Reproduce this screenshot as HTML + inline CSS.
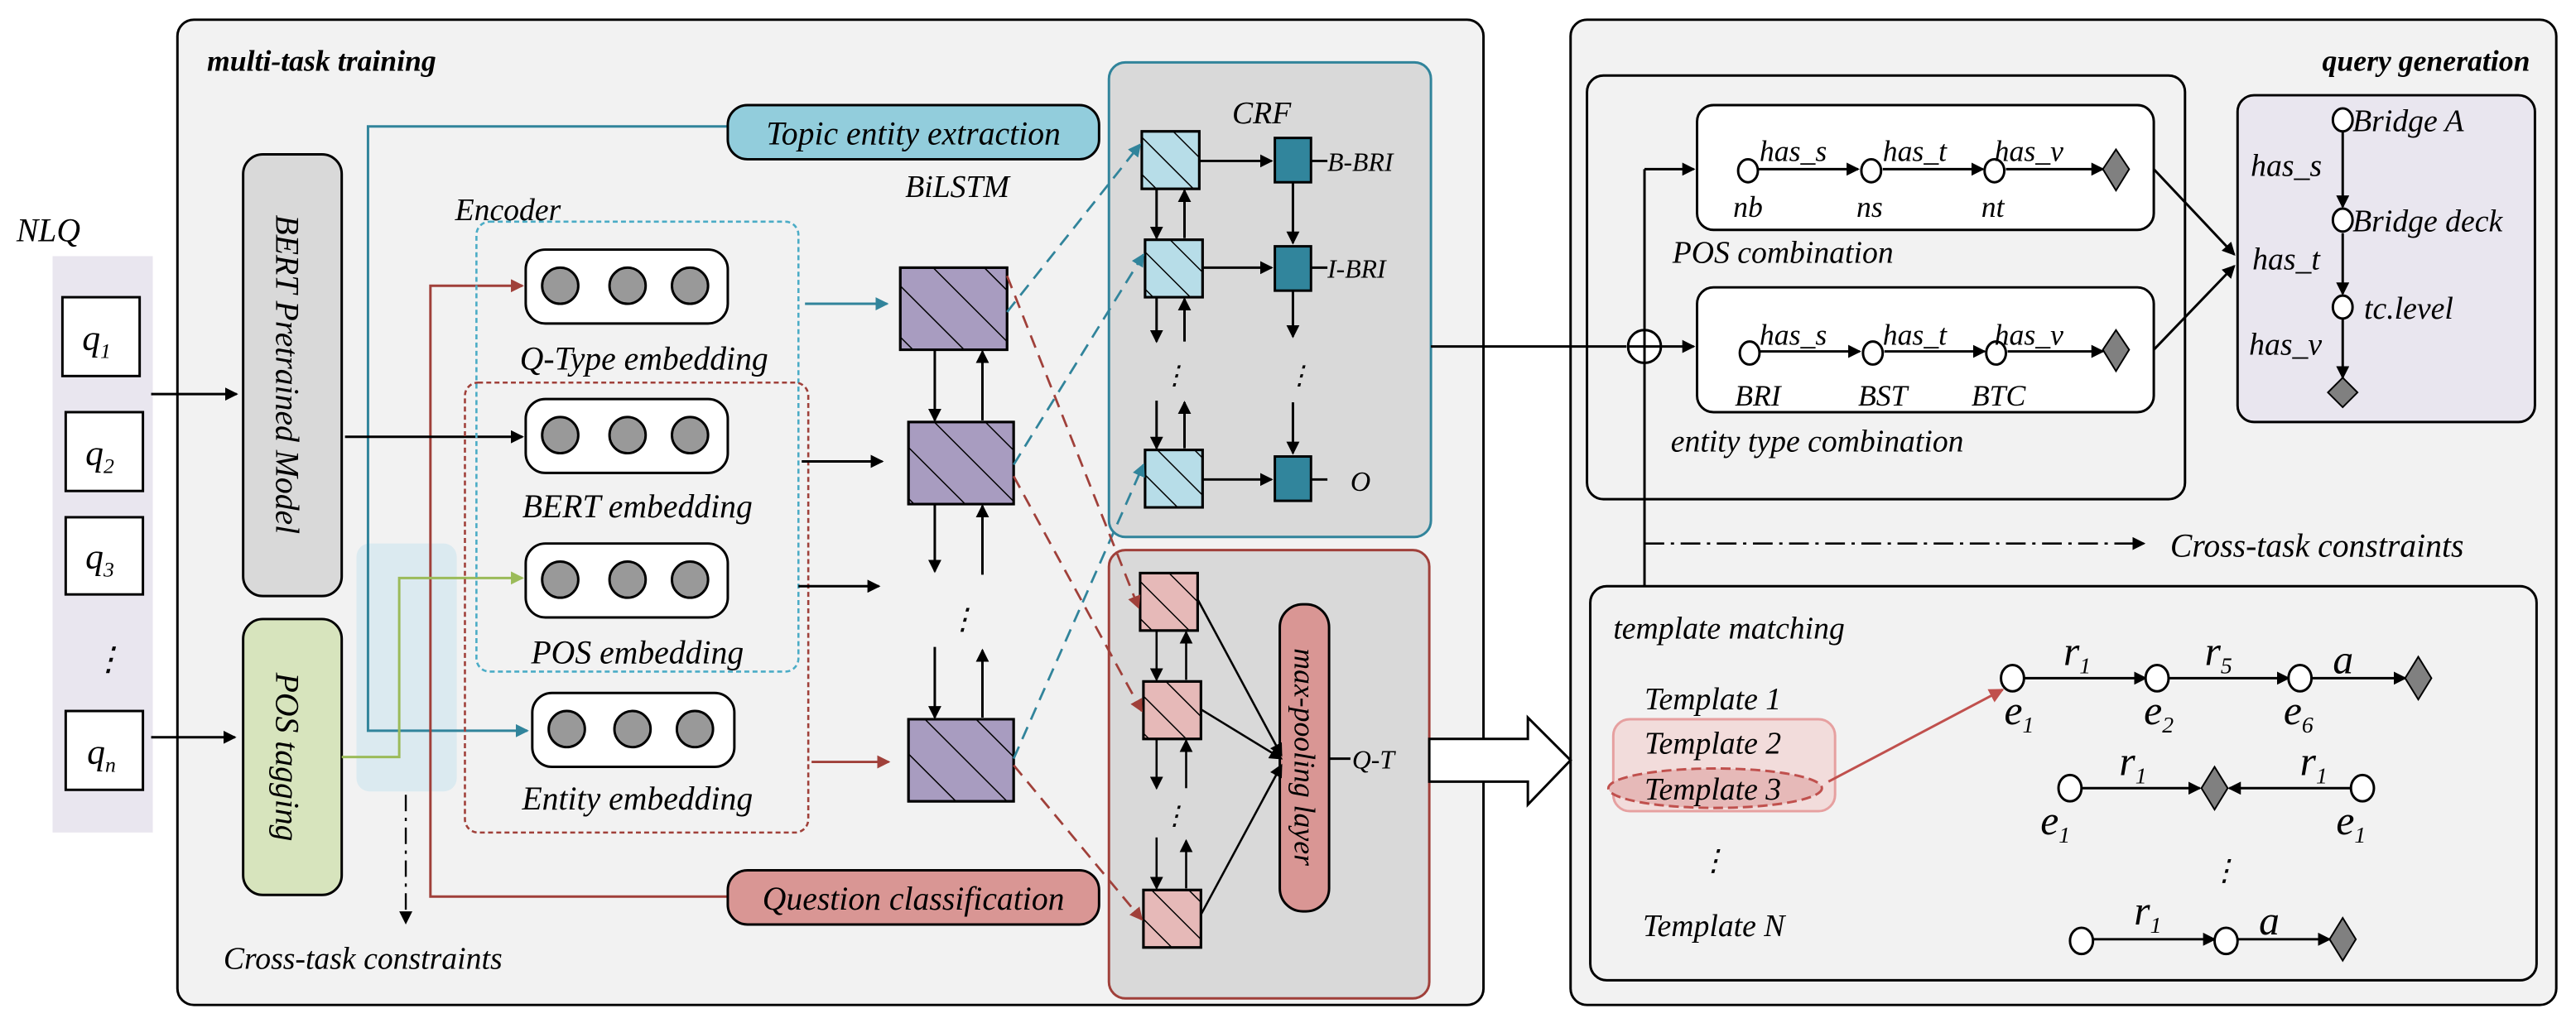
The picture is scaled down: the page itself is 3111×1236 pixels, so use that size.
<!DOCTYPE html>
<html><head><meta charset="utf-8"><style>html,body{margin:0;padding:0;background:#fff}svg{display:block;font-family:"Liberation Serif","Times New Roman","DejaVu Serif",serif;font-style:italic}svg text{font-family:"Liberation Serif","Times New Roman","DejaVu Serif",serif;font-style:italic}</style></head><body>
<svg width="3111" height="1236" viewBox="0 0 1568 623" preserveAspectRatio="none" xmlns="http://www.w3.org/2000/svg" font-family="Liberation Serif, Times New Roman, serif" font-style="italic">
<defs>
<marker id="ak" markerWidth="8" markerHeight="8" refX="7" refY="4" orient="auto" markerUnits="userSpaceOnUse"><path d="M0,0L8,4L0,8z" fill="#000"/></marker>
<marker id="at" markerWidth="8" markerHeight="8" refX="7" refY="4" orient="auto" markerUnits="userSpaceOnUse"><path d="M0,0L8,4L0,8z" fill="#31849b"/></marker>
<marker id="ar" markerWidth="8" markerHeight="8" refX="7" refY="4" orient="auto" markerUnits="userSpaceOnUse"><path d="M0,0L8,4L0,8z" fill="#a0403a"/></marker>
<marker id="ag" markerWidth="8" markerHeight="8" refX="7" refY="4" orient="auto" markerUnits="userSpaceOnUse"><path d="M0,0L8,4L0,8z" fill="#9bbb59"/></marker>
<marker id="ap" markerWidth="9" markerHeight="9" refX="8" refY="4.5" orient="auto" markerUnits="userSpaceOnUse"><path d="M0,0L9,4.5L0,9z" fill="#c0504d"/></marker>
<pattern id="h" width="16" height="16" patternUnits="userSpaceOnUse" patternTransform="rotate(-45)"><line x1="0" y1="0" x2="0" y2="16" stroke="#000" stroke-width="1.5"/></pattern>
<pattern id="h2" width="22" height="22" patternUnits="userSpaceOnUse" patternTransform="rotate(-45)"><line x1="0" y1="0" x2="0" y2="22" stroke="#000" stroke-width="1.5"/></pattern>
</defs>
<!-- panels -->
<rect x="108" y="12" width="795" height="600" rx="10" fill="#f2f2f2" stroke="#000" stroke-width="1.5"/>
<rect x="956" y="12" width="600" height="600" rx="10" fill="#f2f2f2" stroke="#000" stroke-width="1.5"/>
<text x="126" y="43" font-size="18" font-weight="bold">multi-task training</text>
<text x="1540" y="43" font-size="18" font-weight="bold" text-anchor="end">query generation</text>
<!-- NLQ -->
<text x="10" y="147" font-size="20">NLQ</text>
<rect x="32" y="156" width="61" height="351" fill="#e9e6ef"/>
<g fill="#fff" stroke="#000" stroke-width="1.5">
<rect x="38" y="181" width="47" height="48"/><rect x="40" y="251" width="47" height="48"/><rect x="40" y="315" width="47" height="47"/><rect x="40" y="433" width="47" height="48"/></g>
<g font-size="22"><text x="50" y="213">q<tspan font-size="13" dy="5">1</tspan></text><text x="52" y="283">q<tspan font-size="13" dy="5">2</tspan></text><text x="52" y="346">q<tspan font-size="13" dy="5">3</tspan></text><text x="53" y="465">q<tspan font-size="13" dy="5">n</tspan></text></g>
<text x="56" y="408" font-size="20">⋮</text>
<g stroke="#000" stroke-width="1.5" fill="none" marker-end="url(#ak)"><line x1="92" y1="240" x2="144" y2="240"/><line x1="92" y1="449" x2="143" y2="449"/></g>
<!-- BERT / POS -->
<rect x="148" y="94" width="60" height="269" rx="12" fill="#d9d9d9" stroke="#000" stroke-width="1.5"/>
<text transform="translate(168,228) rotate(90)" font-size="20" text-anchor="middle">BERT Pretrained Model</text>
<rect x="148" y="377" width="60" height="168" rx="12" fill="#d7e4bd" stroke="#000" stroke-width="1.5"/>
<text transform="translate(168,461) rotate(90)" font-size="20" text-anchor="middle">POS tagging</text>
<rect x="217" y="331" width="61" height="151" rx="8" fill="#dbeaf0"/>
<!-- connectors left -->
<polyline points="443,77 224,77 224,445 321,445" fill="none" stroke="#31849b" stroke-width="1.5" marker-end="url(#at)"/>
<polyline points="443,546 262,546 262,174 318,174" fill="none" stroke="#a0403a" stroke-width="1.5" marker-end="url(#ar)"/>
<polyline points="208,461 243,461 243,352 318,352" fill="none" stroke="#9bbb59" stroke-width="1.5" marker-end="url(#ag)"/>
<line x1="247" y1="484" x2="247" y2="562" stroke="#000" stroke-width="1.2" stroke-dasharray="10,4,2,4" marker-end="url(#ak)"/>
<text x="136" y="590" font-size="19">Cross-task constraints</text>
<line x1="210" y1="266" x2="318" y2="266" stroke="#000" stroke-width="1.5" marker-end="url(#ak)"/>
<rect x="443" y="64" width="226" height="33" rx="12" fill="#92cddc" stroke="#000" stroke-width="1.5"/>
<text x="556" y="88" font-size="20" text-anchor="middle">Topic entity extraction</text>
<rect x="443" y="530" width="226" height="33" rx="12" fill="#d99694" stroke="#000" stroke-width="1.5"/>
<text x="556" y="554" font-size="20" text-anchor="middle">Question classification</text>
<!-- encoder -->
<text x="277" y="134" font-size="19">Encoder</text>
<rect x="290" y="135" width="196" height="274" rx="8" fill="none" stroke="#4bacc6" stroke-width="1.3" stroke-dasharray="3,2"/>
<rect x="283" y="233" width="209" height="274" rx="8" fill="none" stroke="#a0403a" stroke-width="1.3" stroke-dasharray="3,2"/>
<g stroke="#000" stroke-width="1.5">
<rect x="320" y="152" width="123" height="45" rx="12" fill="#fff"/><rect x="320" y="243" width="123" height="45" rx="12" fill="#fff"/><rect x="320" y="331" width="123" height="45" rx="12" fill="#fff"/><rect x="324" y="422" width="123" height="45" rx="12" fill="#fff"/>
<g fill="#999"><circle cx="341" cy="174" r="11"/><circle cx="382" cy="174" r="11"/><circle cx="420" cy="174" r="11"/>
<circle cx="341" cy="265" r="11"/><circle cx="382" cy="265" r="11"/><circle cx="420" cy="265" r="11"/>
<circle cx="341" cy="353" r="11"/><circle cx="382" cy="353" r="11"/><circle cx="420" cy="353" r="11"/>
<circle cx="345" cy="444" r="11"/><circle cx="385" cy="444" r="11"/><circle cx="423" cy="444" r="11"/></g></g>
<g font-size="20" text-anchor="middle"><text x="392" y="225">Q-Type embedding</text><text x="388" y="315">BERT embedding</text><text x="388" y="404">POS embedding</text><text x="388" y="493">Entity embedding</text></g>
<!-- BiLSTM -->
<text x="551" y="120" font-size="19">BiLSTM</text>
<g stroke="#000" stroke-width="1.5"><rect x="548" y="163" width="65" height="50" fill="#a89cc0"/><rect x="548" y="163" width="65" height="50" fill="url(#h2)"/>
<rect x="553" y="257" width="64" height="50" fill="#a89cc0"/><rect x="553" y="257" width="64" height="50" fill="url(#h2)"/>
<rect x="553" y="438" width="64" height="50" fill="#a89cc0"/><rect x="553" y="438" width="64" height="50" fill="url(#h2)"/></g>
<line x1="490" y1="185" x2="540" y2="185" stroke="#31849b" stroke-width="1.5" marker-end="url(#at)"/>
<line x1="494" y1="464" x2="541" y2="464" stroke="#a0403a" stroke-width="1.5" marker-end="url(#ar)"/>
<g stroke="#000" stroke-width="1.5" marker-end="url(#ak)">
<line x1="488" y1="281" x2="537" y2="281"/><line x1="486" y1="357" x2="535" y2="357"/>
<line x1="569" y1="213" x2="569" y2="256"/><line x1="598" y1="256" x2="598" y2="214"/>
<line x1="569" y1="307" x2="569" y2="348"/><line x1="598" y1="350" x2="598" y2="308"/>
<line x1="569" y1="394" x2="569" y2="437"/><line x1="598" y1="437" x2="598" y2="396"/></g>
<text x="577" y="383" font-size="18">⋮</text>
<!-- CRF -->
<rect x="675" y="38" width="196" height="289" rx="10" fill="#d9d9d9" stroke="#31849b" stroke-width="1.5"/>
<text x="750" y="75" font-size="19">CRF</text>
<g stroke="#000" stroke-width="1.5">
<rect x="695" y="80" width="35" height="35" fill="#b7dde8"/><rect x="695" y="80" width="35" height="35" fill="url(#h)"/>
<rect x="697" y="146" width="35" height="35" fill="#b7dde8"/><rect x="697" y="146" width="35" height="35" fill="url(#h)"/>
<rect x="697" y="274" width="35" height="35" fill="#b7dde8"/><rect x="697" y="274" width="35" height="35" fill="url(#h)"/>
<rect x="776" y="84" width="22" height="27" fill="#31859c"/><rect x="776" y="150" width="22" height="27" fill="#31859c"/><rect x="776" y="278" width="22" height="27" fill="#31859c"/>
<line x1="798" y1="98" x2="808" y2="98"/><line x1="798" y1="163" x2="808" y2="163"/><line x1="798" y1="292" x2="808" y2="292"/></g>
<g font-size="16"><text x="808" y="104">B-BRI</text><text x="808" y="169">I-BRI</text><text x="822" y="299" font-size="17">O</text></g>
<g stroke="#000" stroke-width="1.5" marker-end="url(#ak)">
<line x1="730" y1="98" x2="774" y2="98"/><line x1="732" y1="163" x2="774" y2="163"/><line x1="732" y1="292" x2="774" y2="292"/>
<line x1="704" y1="115" x2="704" y2="145"/><line x1="721" y1="145" x2="721" y2="116"/>
<line x1="704" y1="181" x2="704" y2="208"/><line x1="721" y1="208" x2="721" y2="182"/>
<line x1="704" y1="244" x2="704" y2="273"/><line x1="721" y1="273" x2="721" y2="245"/>
<line x1="787" y1="111" x2="787" y2="148"/><line x1="787" y1="177" x2="787" y2="205"/><line x1="787" y1="245" x2="787" y2="276"/></g>
<text x="707" y="234" font-size="16">⋮</text><text x="783" y="234" font-size="16">⋮</text>
<!-- Q-T panel -->
<rect x="675" y="335" width="195" height="273" rx="10" fill="#d9d9d9" stroke="#a0403a" stroke-width="1.5"/>
<g stroke="#000" stroke-width="1.5">
<rect x="694" y="349" width="35" height="35" fill="#e6b9b8"/><rect x="694" y="349" width="35" height="35" fill="url(#h)"/>
<rect x="696" y="415" width="35" height="35" fill="#e6b9b8"/><rect x="696" y="415" width="35" height="35" fill="url(#h)"/>
<rect x="696" y="542" width="35" height="35" fill="#e6b9b8"/><rect x="696" y="542" width="35" height="35" fill="url(#h)"/>
<rect x="779" y="368" width="30" height="187" rx="14" fill="#d99694"/>
<line x1="809" y1="462" x2="822" y2="462"/></g>
<text transform="translate(788,461) rotate(90)" font-size="18" text-anchor="middle">max-pooling layer</text>
<text x="823" y="468" font-size="16">Q-T</text>
<g stroke="#000" stroke-width="1.3" marker-end="url(#ak)">
<line x1="729" y1="365" x2="780" y2="460"/><line x1="731" y1="432" x2="780" y2="462"/><line x1="731" y1="557" x2="780" y2="466"/>
<line x1="704" y1="384" x2="704" y2="414"/><line x1="722" y1="414" x2="722" y2="385"/>
<line x1="704" y1="450" x2="704" y2="480"/><line x1="722" y1="480" x2="722" y2="451"/>
<line x1="704" y1="510" x2="704" y2="541"/><line x1="722" y1="541" x2="722" y2="512"/></g>
<text x="707" y="502" font-size="16">⋮</text>
<!-- dashed connectors -->
<g stroke="#31849b" stroke-width="1.4" stroke-dasharray="8,5" fill="none" marker-end="url(#at)">
<line x1="613" y1="190" x2="694" y2="88"/><line x1="617" y1="283" x2="696" y2="155"/><line x1="617" y1="462" x2="696" y2="283"/></g>
<g stroke="#a0403a" stroke-width="1.4" stroke-dasharray="8,5" fill="none" marker-end="url(#ar)">
<line x1="613" y1="168" x2="693" y2="370"/><line x1="617" y1="290" x2="695" y2="433"/><line x1="617" y1="466" x2="695" y2="560"/></g>
<!-- hollow arrow -->
<path d="M870,450 L930,450 L930,437 L956,463 L930,490 L930,476 L870,476 Z" fill="#fff" stroke="#000" stroke-width="1.5"/>
<!-- query generation -->
<rect x="966" y="46" width="364" height="258" rx="10" fill="#f2f2f2" stroke="#000" stroke-width="1.5"/>
<line x1="871" y1="211" x2="990" y2="211" stroke="#000" stroke-width="1.5"/>
<line x1="1001" y1="103" x2="1001" y2="357" stroke="#000" stroke-width="1.5"/>
<circle cx="1001" cy="211" r="10" fill="#fff" stroke="#000" stroke-width="1.5"/>
<path d="M991,211H1011M1001,201V221" stroke="#000" stroke-width="1.5"/>
<g stroke="#000" stroke-width="1.5" marker-end="url(#ak)"><line x1="1001" y1="103" x2="1031" y2="103"/><line x1="1011" y1="211" x2="1031" y2="211"/></g>
<rect x="1033" y="64" width="278" height="76" rx="10" fill="#fff" stroke="#000" stroke-width="1.5"/>
<rect x="1033" y="175" width="278" height="76" rx="10" fill="#fff" stroke="#000" stroke-width="1.5"/>
<g stroke="#000" stroke-width="1.5" marker-end="url(#ak)">
<line x1="1070" y1="103" x2="1131" y2="103"/><line x1="1146" y1="103" x2="1207" y2="103"/><line x1="1221" y1="103" x2="1280" y2="103"/>
<line x1="1071" y1="214" x2="1132" y2="214"/><line x1="1147" y1="214" x2="1208" y2="214"/><line x1="1222" y1="214" x2="1280" y2="214"/>
<line x1="1311" y1="103" x2="1360" y2="155"/><line x1="1311" y1="213" x2="1360" y2="162"/></g>
<g fill="#fff" stroke="#000" stroke-width="1.5"><ellipse cx="1064" cy="104" rx="6" ry="7"/><ellipse cx="1139" cy="104" rx="6" ry="7"/><ellipse cx="1214" cy="104" rx="6" ry="7"/><ellipse cx="1065" cy="215" rx="6" ry="7"/><ellipse cx="1140" cy="215" rx="6" ry="7"/><ellipse cx="1215" cy="215" rx="6" ry="7"/></g>
<g fill="#808080" stroke="#000"><path d="M1288,91L1296,103L1288,116L1280,103Z"/><path d="M1288,201L1296,213L1288,226L1280,213Z"/></g>
<g font-size="18"><text x="1071" y="98">has_s</text><text x="1146" y="98">has_t</text><text x="1214" y="98">has_v</text>
<text x="1071" y="210">has_s</text><text x="1146" y="210">has_t</text><text x="1214" y="210">has_v</text>
<text x="1055" y="132">nb</text><text x="1130" y="132">ns</text><text x="1206" y="132">nt</text>
<text x="1056" y="247">BRI</text><text x="1131" y="247">BST</text><text x="1200" y="247">BTC</text>
<text x="1018" y="160" font-size="19">POS combination</text><text x="1017" y="275" font-size="19">entity type combination</text></g>
<rect x="1362" y="58" width="181" height="199" rx="10" fill="#e9e6ef" stroke="#000" stroke-width="1.5"/>
<g stroke="#000" stroke-width="1.5" marker-end="url(#ak)"><line x1="1426" y1="80" x2="1426" y2="126"/><line x1="1426" y1="142" x2="1426" y2="179"/><line x1="1426" y1="194" x2="1426" y2="230"/></g>
<g fill="#fff" stroke="#000" stroke-width="1.5"><ellipse cx="1426" cy="73" rx="6" ry="7"/><ellipse cx="1426" cy="134" rx="6" ry="7"/><ellipse cx="1426" cy="187" rx="6" ry="7"/></g>
<path d="M1426,230L1435,239L1426,248L1417,239Z" fill="#808080" stroke="#000"/>
<g font-size="19"><text x="1432" y="80">Bridge A</text><text x="1432" y="141">Bridge deck</text><text x="1439" y="194">tc.level</text>
<text x="1370" y="107">has_s</text><text x="1371" y="164">has_t</text><text x="1369" y="216">has_v</text></g>
<line x1="1001" y1="331" x2="1305" y2="331" stroke="#000" stroke-width="1.3" stroke-dasharray="12,4,2,4" marker-end="url(#ak)"/>
<text x="1321" y="339" font-size="20">Cross-task constraints</text>
<!-- template matching -->
<rect x="968" y="357" width="576" height="240" rx="10" fill="#f2f2f2" stroke="#000" stroke-width="1.5"/>
<text x="982" y="389" font-size="19">template matching</text>
<rect x="982" y="438" width="135" height="56" rx="10" fill="#f2dcdb" stroke="#e6a0a0" stroke-width="1.5"/>
<ellipse cx="1044" cy="480" rx="65" ry="12" fill="#e6b9b8" stroke="#c0504d" stroke-width="1.5" stroke-dasharray="6,3"/>
<g font-size="19"><text x="1001" y="432">Template 1</text><text x="1001" y="459">Template 2</text><text x="1001" y="487">Template 3</text><text x="1000" y="570">Template N</text></g>
<text x="1034" y="530" font-size="18">⋮</text><text x="1345" y="536" font-size="18">⋮</text>
<line x1="1113" y1="476" x2="1219" y2="420" stroke="#c0504d" stroke-width="1.5" marker-end="url(#ap)"/>
<g stroke="#000" stroke-width="1.5" marker-end="url(#ak)">
<line x1="1232" y1="413" x2="1306" y2="413"/><line x1="1320" y1="413" x2="1393" y2="413"/><line x1="1407" y1="413" x2="1464" y2="413"/>
<line x1="1267" y1="480" x2="1339" y2="480"/><line x1="1431" y1="480" x2="1357" y2="480"/>
<line x1="1274" y1="572" x2="1348" y2="572"/><line x1="1362" y1="572" x2="1418" y2="572"/></g>
<g fill="#fff" stroke="#000" stroke-width="1.5"><ellipse cx="1225" cy="413" rx="7" ry="8"/><ellipse cx="1313" cy="413" rx="7" ry="8"/><ellipse cx="1400" cy="413" rx="7" ry="8"/>
<ellipse cx="1260" cy="480" rx="7" ry="8"/><ellipse cx="1438" cy="480" rx="7" ry="8"/><ellipse cx="1267" cy="573" rx="7" ry="8"/><ellipse cx="1355" cy="573" rx="7" ry="8"/></g>
<g fill="#808080" stroke="#000"><path d="M1472,400L1480,413L1472,426L1464,413Z"/><path d="M1348,467L1356,480L1348,493L1340,480Z"/><path d="M1426,559L1434,572L1426,585L1418,572Z"/></g>
<g font-size="25"><text x="1256" y="405">r<tspan font-size="14" dy="5">1</tspan></text><text x="1342" y="405">r<tspan font-size="14" dy="5">5</tspan></text><text x="1420" y="410">a</text>
<text x="1220" y="441">e<tspan font-size="14" dy="5">1</tspan></text><text x="1305" y="441">e<tspan font-size="14" dy="5">2</tspan></text><text x="1390" y="441">e<tspan font-size="14" dy="5">6</tspan></text>
<text x="1290" y="472">r<tspan font-size="14" dy="5">1</tspan></text><text x="1400" y="472">r<tspan font-size="14" dy="5">1</tspan></text>
<text x="1242" y="508">e<tspan font-size="14" dy="5">1</tspan></text><text x="1422" y="508">e<tspan font-size="14" dy="5">1</tspan></text>
<text x="1299" y="563">r<tspan font-size="14" dy="5">1</tspan></text><text x="1375" y="569">a</text></g>
</svg>
</body></html>
